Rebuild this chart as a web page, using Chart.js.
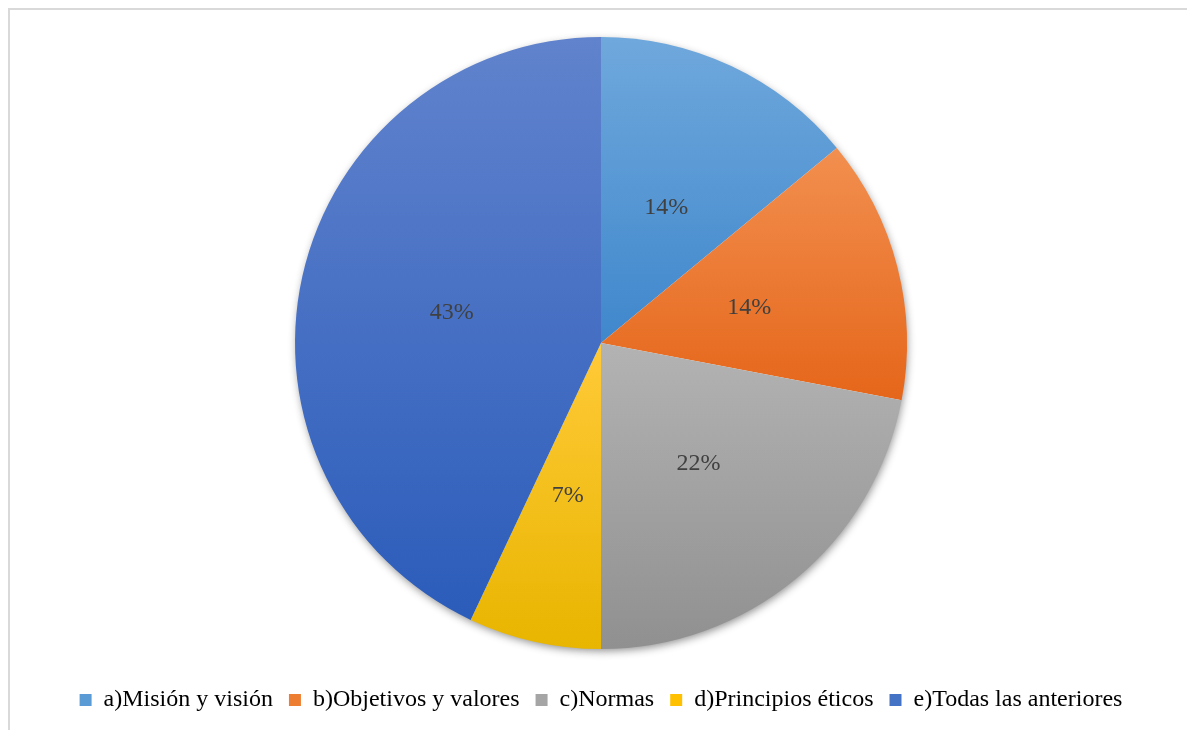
<!DOCTYPE html>
<html>
<head>
<meta charset="utf-8">
<script src="https://cdn.jsdelivr.net/npm/chart.js@4/dist/chart.umd.min.js"></script>
<style>
  html, body { margin: 0; padding: 0; background: #fff; }
  #marco { position: absolute; left: 8px; top: 8px; width: 1200px; height: 740px;
           border-top: 2px solid #d9d9d9; border-left: 2px solid #d9d9d9; }
  #wrap { position: absolute; left: 0; top: 0; width: 1187px; height: 730px; }
</style>
</head>
<body>
<div id="marco"></div>
<div id="wrap"><canvas id="pieChart"></canvas></div>
<script>
const categorias = ["a)Misión y visión", "b)Objetivos y valores", "c)Normas", "d)Principios éticos", "e)Todas las anteriores"];
const porcentajes = [14, 14, 22, 7, 43];
// color claro arriba, oscuro abajo (degradado por sector)
const coloresArriba = ['#6fa8dc', '#f28f4f', '#b3b3b3', '#ffca38', '#6183cd'];
const coloresAbajo = ['#3f87cc', '#e5661a', '#909090', '#e8b500', '#2b5cba'];
const coloresBase = ['#5b9bd5', '#ed7d31', '#a5a5a5', '#ffc000', '#4472c4'];

// rango vertical de un sector para armar el degradado
function rangoY(arc) {
    let ys = [arc.y];
    const pts = [arc.startAngle, arc.endAngle];
    for (let k = -4; k <= 8; k++) {
        const a = k * Math.PI / 2;
        if (a > arc.startAngle && a < arc.endAngle) pts.push(a);
    }
    pts.forEach(a => ys.push(arc.y + Math.sin(a) * arc.outerRadius));
    return [Math.min(...ys), Math.max(...ys)];
}

const sombraYDegradado = {
    id: 'sombraYDegradado',
    beforeDatasetsDraw(chart) {
        const ctx = chart.ctx;
        const arcs = chart.getDatasetMeta(0).data;
        if (!arcs.length) return;
        const a0 = arcs[0];
        ctx.save();
        ctx.shadowColor = 'rgba(0,0,0,0.45)';
        ctx.shadowBlur = 9;
        ctx.shadowOffsetX = 1;
        ctx.shadowOffsetY = 3;
        ctx.fillStyle = '#ffffff';
        ctx.beginPath();
        ctx.arc(a0.x, a0.y, a0.outerRadius - 1, 0, Math.PI * 2);
        ctx.fill();
        ctx.restore();
        arcs.forEach((arc, i) => {
            const [y1, y2] = rangoY(arc);
            const g = ctx.createLinearGradient(0, y1, 0, y2);
            g.addColorStop(0, coloresArriba[i]);
            g.addColorStop(1, coloresAbajo[i]);
            arc.options.backgroundColor = g;
        });
    },
    afterDatasetsDraw(chart) {
        const ctx = chart.ctx;
        ctx.save();
        ctx.font = '24px "Liberation Serif", "Times New Roman", serif';
        ctx.fillStyle = '#404040';
        ctx.textAlign = 'center';
        ctx.textBaseline = 'middle';
        chart.getDatasetMeta(0).data.forEach((arc, i) => {
            const p = arc.tooltipPosition();
            ctx.fillText(porcentajes[i] + '%', p.x, p.y + 3);
        });
        ctx.restore();
    }
};

const CHART = document.getElementById("pieChart");
let pieChart = new Chart(CHART, {
    type: 'pie',
    data: {
        labels: categorias,
        datasets: [{
            data: porcentajes,
            backgroundColor: coloresBase,
            borderWidth: 0,
            radius: 306
        }]
    },
    options: {
        responsive: true,
        maintainAspectRatio: false,
        animation: false,
        layout: { padding: { top: 14, left: 40, right: 25, bottom: 8 } },
        plugins: {
            tooltip: { enabled: false },
            legend: {
                position: 'bottom',
                labels: {
                    boxWidth: 12,
                    boxHeight: 12,
                    padding: 16,
                    color: '#595959',
                    font: { family: '"Liberation Serif", "Times New Roman", serif', size: 24 },
                    generateLabels(chart) {
                        return categorias.map((c, i) => ({
                            text: c,
                            fillStyle: coloresBase[i],
                            strokeStyle: coloresBase[i],
                            lineWidth: 0,
                            index: i,
                            hidden: false
                        }));
                    }
                }
            }
        }
    },
    plugins: [sombraYDegradado]
});
</script>
</body>
</html>
